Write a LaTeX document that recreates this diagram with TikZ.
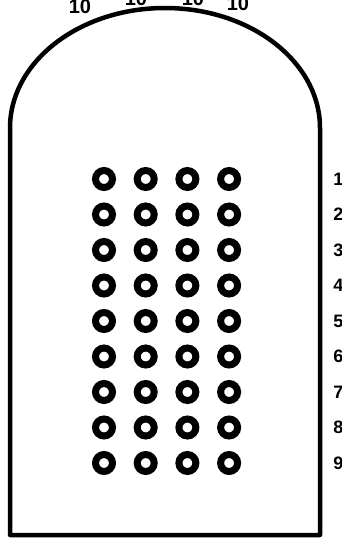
\documentclass[tikz,border=0pt]{standalone}
\usepackage{fontspec}
\newfontfamily\numfont{Liberation Sans}
\usepackage{tikz}
\usetikzlibrary{matrix}

\tikzset{
  outline/.style={line width=4.5pt, line join=round},
  hole/.style={circle, draw, line width=7pt, minimum size=17pt, inner sep=0pt},
  num/.style={font=\numfont\bfseries\fontsize{18}{18}\selectfont, inner sep=0pt, anchor=west},
  topnum/.style={font=\numfont\bfseries\fontsize{20}{20}\selectfont, inner sep=0pt, anchor=south}
}

\begin{document}
\begin{tikzpicture}[x=1pt, y=-1pt]
  \path[use as bounding box, clip] (0,0) rectangle (342,539);
  % housing
  \draw[outline] (10,535) -- (10,128)
    arc[start angle=180, end angle=0, x radius=155pt, y radius=120pt]
    -- (320,535) -- cycle;
  % holes and row numbers
  \matrix (m) [matrix of nodes, nodes in empty cells,
    row sep={35.5pt,between origins}, column sep={41.7pt,between origins},
    column 1/.style={nodes=hole}, column 2/.style={nodes=hole},
    column 3/.style={nodes=hole}, column 4/.style={nodes=hole},
    column 5/.style={nodes=num},
    matrix anchor=m-1-1.center] at (104,179)
  {
    & & & &[62.5pt] 1 \\
    & & & & 2 \\
    & & & & 3 \\
    & & & & 4 \\
    & & & & 5 \\
    & & & & 6 \\
    & & & & 7 \\
    & & & & 8 \\
    & & & & 9 \\
  };
  % column numbers
  \node[topnum] (t1) at (80,14) {10};
  \node[topnum] (t2) at (136,6) {10};
  \node[topnum] (t3) at (193,6) {10};
  \node[topnum] (t4) at (238,11) {10};
\end{tikzpicture}
\end{document}
